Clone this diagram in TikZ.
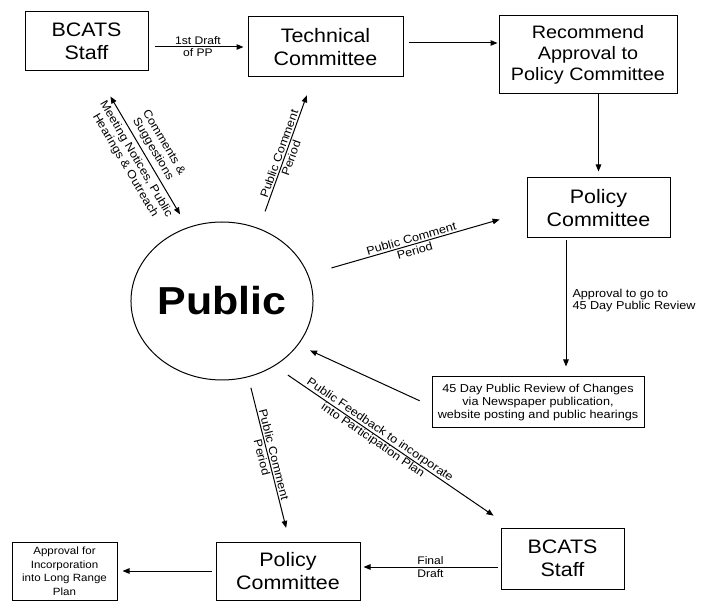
\documentclass[tikz,border=0pt]{standalone}
\usepackage{fontspec}
\setmainfont{Liberation Sans}[FakeStretch=1.1]
\usetikzlibrary{positioning,calc,arrows.meta,shapes.geometric}

\begin{document}
\begin{tikzpicture}[x=1pt,y=-1pt,line width=1pt,
                    >={Triangle[length=7pt,width=5.5pt]},
                    stage node/.style={rectangle,draw,align=center,inner sep=2pt,font=\fontsize{19.5}{23}\selectfont},
                    note node/.style={rectangle,draw,align=center,inner sep=2pt,font=\fontsize{11.5}{13}\selectfont},
                    flow label/.style={align=center,inner sep=1pt,font=\fontsize{11.5}{12.5}\selectfont}
                   ]
   \useasboundingbox (0,0) rectangle (707,601);
   % boxes
   \node[stage node,minimum width=123pt,minimum height=59pt] (bcats1) at (86.5,41.5) {BCATS\\Staff};
   \node[stage node,minimum width=155pt,minimum height=60pt] (tech) at (325.5,47) {Technical\\Committee};
   \node[stage node,minimum width=178pt,minimum height=78pt,font=\fontsize{18}{21}\selectfont] (recom) at (588,55) {Recommend\\Approval to\\Policy Committee};
   \node[stage node,minimum width=143pt,minimum height=60pt] (policy1) at (598.5,208) {Policy\\Committee};
   \node[note node,minimum width=212pt,minimum height=51pt] (review) at (538,402.5) {45 Day Public Review of Changes\\via Newspaper publication,\\website posting and public hearings};
   \node[stage node,minimum width=123pt,minimum height=61pt] (bcats2) at (562.5,558.5) {BCATS\\Staff};
   \node[stage node,minimum width=144pt,minimum height=58pt] (policy2) at (288,571) {Policy\\Committee};
   \node[note node,minimum width=105pt,minimum height=58pt,font=\fontsize{10.5}{13.5}\selectfont] (approval) at (64.5,571) {Approval for\\Incorporation\\into Long Range\\Plan};
   \node[ellipse,draw,minimum width=174pt,minimum height=158pt,inner sep=0pt,font=\fontsize{39}{44}\bfseries] (public) at (222,301) {Public};

   % straight flows
   \draw[->,shorten <=6pt,shorten >=4pt] (bcats1.east |- tech.west) -- (tech.west)
        node[midway,flow label,font=\fontsize{11}{12}\selectfont] {1st Draft\\of PP};
   \draw[->,shorten <=5pt,shorten >=1pt] ([yshift=4pt]tech.east) -- ([yshift=4pt]tech.east -| recom.west);
   \draw[->,shorten >=6pt] (policy1.north |- recom.south) -- (policy1.north);
   \draw[->,shorten <=2pt,shorten >=10pt] ([xshift=-32.5pt]policy1.south) -- ([xshift=-32.5pt]policy1.south |- review.north)
        node[pos=0.45,right=5pt,flow label,align=left] {Approval to go to\\45 Day Public Review};
   \draw[->,shorten <=3pt,shorten >=3pt] ([yshift=-8.5pt]bcats2.west) -- ([yshift=-8.5pt]bcats2.west -| policy2.east)
        node[midway,flow label,align=left,font=\fontsize{11}{13}\selectfont] {Final\\Draft};
   \draw[->,shorten <=4pt,shorten >=5pt] (policy2.west) -- (approval.east);

   % flows round the public
   \draw[<->,shorten <=29pt,shorten >=15pt] (bcats1.-73) -- (public.115)
        node[pos=0.53,sloped,above=3pt,flow label] {Comments \&\\Suggestions}
        node[pos=0.53,sloped,below=3pt,flow label] {Meeting Notices, Public\\Hearings \& Outreach};
   \draw[->,shorten <=18pt,shorten >=19pt] (public.63) -- (tech.-112)
        node[pos=0.48,sloped,flow label] {Public Comment\\Period};
   \draw[->,shorten <=24pt,shorten >=28pt] (public.17) -- (policy1.183)
        node[pos=0.48,sloped,flow label] {Public Comment\\Period};
   \draw[->,shorten <=13pt,shorten >=13pt] (review.182) -- (public.-30);
   \draw[->,shorten <=16pt,shorten >=21pt] (public.-51) -- (bcats2.149)
        node[pos=0.43,sloped,flow label] {Public Feedback to incorporate\\into Participation Plan};
   \draw[->,shorten <=11pt,shorten >=14pt] (public.-71) -- (policy2.87)
        node[pos=0.48,sloped,flow label] {Public Comment\\Period};
\end{tikzpicture}
\end{document}
